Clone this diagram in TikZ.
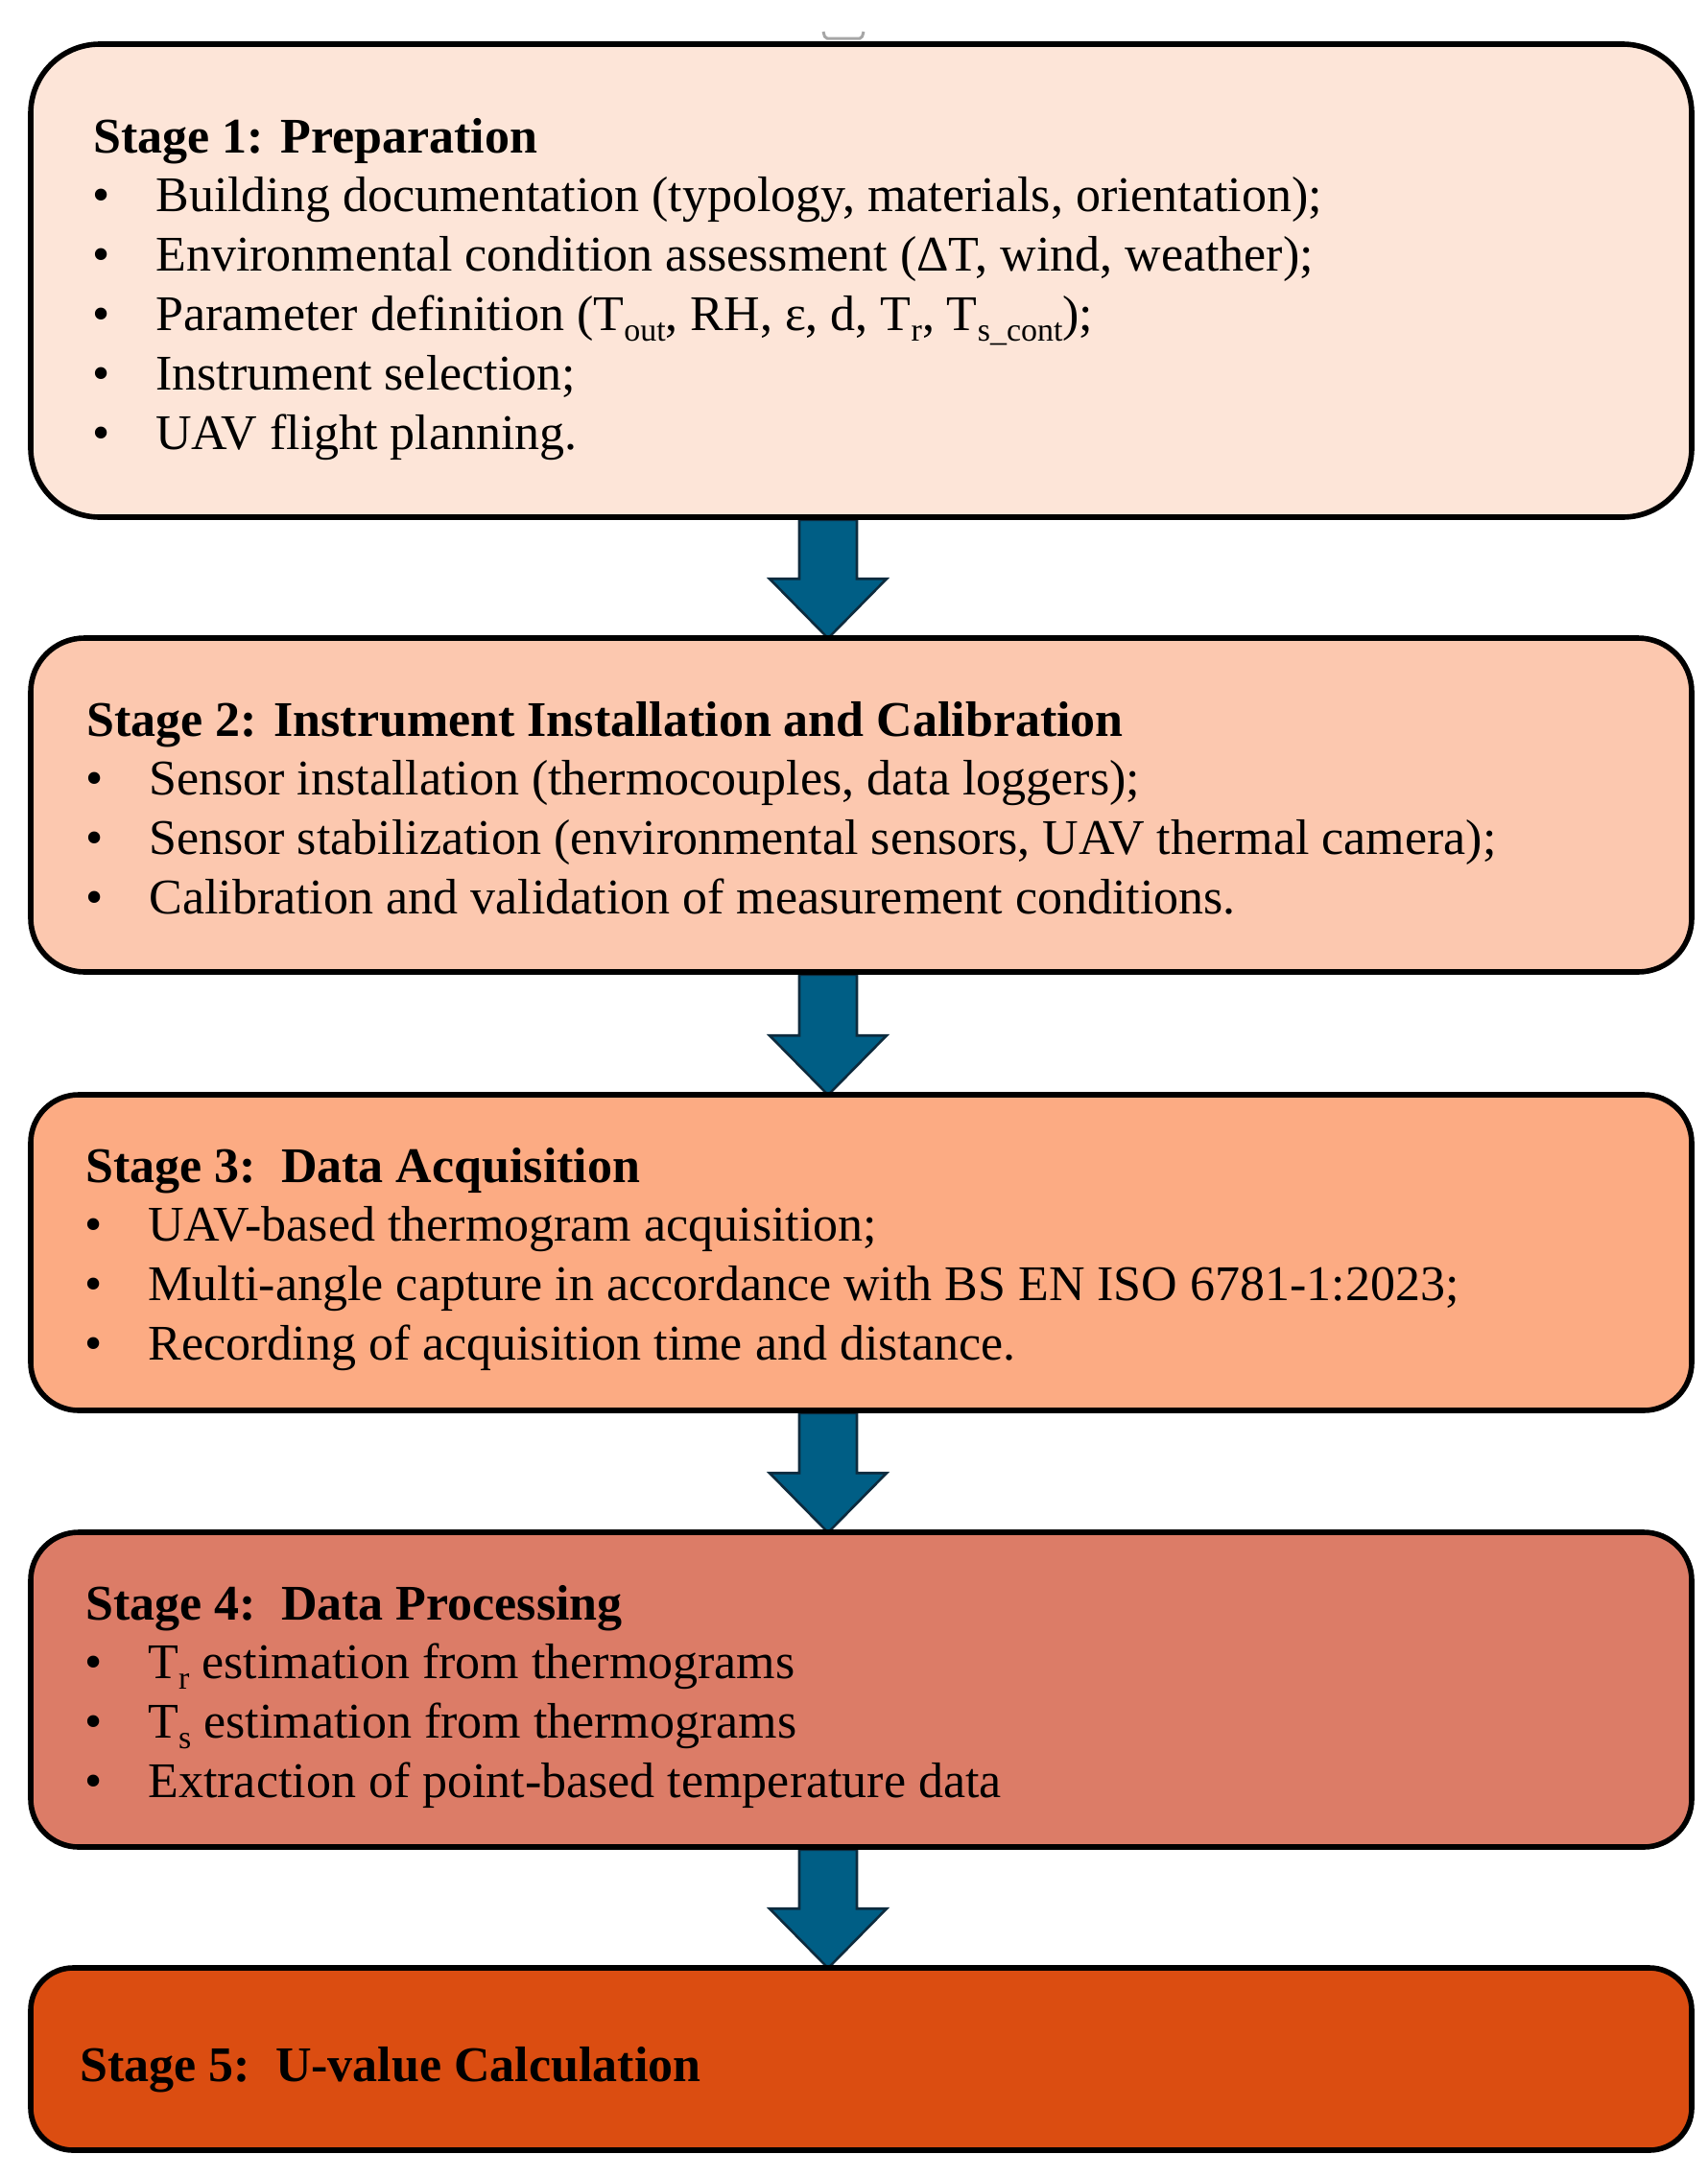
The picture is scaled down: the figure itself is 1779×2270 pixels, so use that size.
\documentclass[tikz,border=0pt]{standalone}
\usepackage{fontspec}
\setmainfont{Liberation Serif}
\usetikzlibrary{calc,backgrounds}
\definecolor{cA}{HTML}{FDE5D8}
\definecolor{cB}{HTML}{FCC8AF}
\definecolor{cC}{HTML}{FCAB83}
\definecolor{cD}{HTML}{DC7C67}
\definecolor{cE}{HTML}{DB4D11}
\definecolor{arrfill}{HTML}{005E85}
\definecolor{arrline}{HTML}{0D2B3E}
\newcommand{\sbs}[1]{\raisebox{-0.22em}{\fontsize{17}{17}\selectfont #1}}
\newcommand{\itm}[1]{\makebox[33pt][l]{•}#1}
\newcommand{\blockarr}[2]{%
  \path[flowarrow] let \p1=(#1.south -| ax), \p2=(#2.north -| ax) in
    (\x1-15pt,\y1) -- (\x1+15pt,\y1) -- (\x1+15pt,\y2+29.5pt) -- (\x1+30.5pt,\y2+29.5pt)
    -- (\x1,\y2-1.5pt) -- (\x1-30.5pt,\y2+29.5pt) -- (\x1-15pt,\y2+29.5pt) -- cycle;}
\begin{document}
\begin{tikzpicture}[x=0.5pt,y=-0.5pt,
  stagebox/.style={draw=black,line width=2.8pt,inner sep=0pt,minimum width=865.5pt},
  txt/.style={anchor=base west,inner sep=0pt,font=\fontsize{26}{31}\selectfont},
  ttl/.style={anchor=base west,inner sep=0pt,font=\fontsize{26}{31}\selectfont\bfseries},
  flowarrow/.style={fill=arrfill,draw=arrline,line width=1.3pt,line join=miter}]
\useasboundingbox (0,0) rectangle (1779,2270);
\coordinate (ax) at (863,0);

% small gray mark at top
\draw[gray!70,line width=1.5pt,rounded corners=1pt] (858,33) -- (860,40) -- (898,40) -- (900,33);

% boxes
\node[stagebox,fill=cA,rounded corners=36pt,minimum height=246.5pt] (b1) at (897.5,292.5) {};
\node[stagebox,fill=cB,rounded corners=28pt,minimum height=174pt] (b2) at (897.5,839) {};
\node[stagebox,fill=cC,rounded corners=25pt,minimum height=164.5pt] (b3) at (897.5,1305.5) {};
\node[stagebox,fill=cD,rounded corners=25pt,minimum height=164pt] (b4) at (897.5,1761) {};
\node[stagebox,fill=cE,rounded corners=22pt,minimum height=95pt] (b5) at (897.5,2146) {};

% arrows (behind the box borders)
\begin{scope}[on background layer]
\blockarr{b1}{b2}
\blockarr{b2}{b3}
\blockarr{b3}{b4}
\blockarr{b4}{b5}
\end{scope}

% Stage 1
\node[ttl] (h1) at (97,159) {Stage 1: Preparation};
\node[txt] (l11) at (96,220) {\itm{Building documentation (typology, materials, orientation);}};
\node[txt] (l12) at (96,282) {\itm{Environmental condition assessment (ΔT, wind, weather);}};
\node[txt] (l13) at (96,344) {\itm{Parameter definition (T\sbs{out}, RH, ε, d, T\sbs{r}, T\sbs{s\_cont});}};
\node[txt] (l14) at (96,406) {\itm{Instrument selection;}};
\node[txt] (l15) at (96,468) {\itm{UAV flight planning.}};

% Stage 2
\node[ttl] (h2) at (90,767) {Stage 2: Instrument Installation and Calibration};
\node[txt] (l21) at (89,828) {\itm{Sensor installation (thermocouples, data loggers);}};
\node[txt] (l22) at (89,890) {\itm{Sensor stabilization (environmental sensors, UAV thermal camera);}};
\node[txt] (l23) at (89,952) {\itm{Calibration and validation of measurement conditions.}};

% Stage 3
\node[ttl] (h3) at (89,1232) {Stage 3:\ \ Data Acquisition};
\node[txt] (l31) at (88,1293) {\itm{UAV-based thermogram acquisition;}};
\node[txt] (l32) at (88,1355) {\itm{Multi-angle capture in accordance with BS EN ISO 6781-1:2023;}};
\node[txt] (l33) at (88,1417) {\itm{Recording of acquisition time and distance.}};

% Stage 4
\node[ttl] (h4) at (89,1688) {Stage 4:\ \ Data Processing};
\node[txt] (l41) at (88,1749) {\itm{T\sbs{r} estimation from thermograms}};
\node[txt] (l42) at (88,1811) {\itm{T\sbs{s} estimation from thermograms}};
\node[txt] (l43) at (88,1873) {\itm{Extraction of point-based temperature data}};

% Stage 5
\node[ttl] (h5) at (83,2169) {Stage 5:\ \ U-value Calculation};
\end{tikzpicture}
\end{document}
